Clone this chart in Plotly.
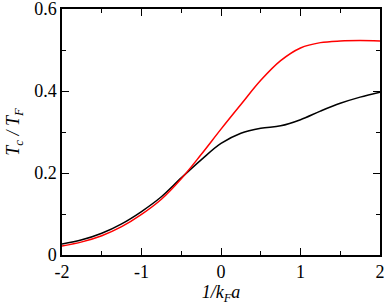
import plotly.graph_objects as go

x_vals = [-2, -1.75, -1.5, -1.25, -1, -0.75, -0.5, -0.25, 0, 0.25, 0.5, 0.75, 1, 1.25, 1.5, 1.75, 2]
red_vals = [0.022, 0.032, 0.047, 0.069, 0.099, 0.136, 0.186, 0.245, 0.307, 0.367, 0.426, 0.474,
            0.505, 0.518, 0.522, 0.523, 0.522]
black_vals = [0.027, 0.037, 0.053, 0.076, 0.106, 0.142, 0.188, 0.232, 0.272, 0.297, 0.309, 0.315,
              0.330, 0.351, 0.370, 0.385, 0.397]

x_ticks = [-2, -1, 0, 1, 2]
x_tick_labels = ["-2", "-1", "0", "1", "2"]
y_ticks = [0, 0.2, 0.4, 0.6]
y_tick_labels = ["0", "0.2", "0.4", "0.6"]

font = "Liberation Serif"

fig = go.Figure()
fig.add_trace(go.Scatter(x=x_vals, y=black_vals, mode="lines",
                         line=dict(color="#000000", width=1.5, shape="spline", smoothing=1.0),
                         showlegend=False, hoverinfo="skip"))
fig.add_trace(go.Scatter(x=x_vals, y=red_vals, mode="lines",
                         line=dict(color="#ff0000", width=1.5, shape="spline", smoothing=1.0),
                         showlegend=False, hoverinfo="skip"))

axis_common = dict(showgrid=False, zeroline=False, showline=True, linecolor="black", linewidth=1.5,
                   mirror="allticks", ticks="inside", ticklen=7, tickwidth=1.2, tickcolor="black",
                   automargin=False, ticklabeloverflow="allow",
                   tickfont=dict(family=font, size=18, color="black"))

fig.update_xaxes(range=[-2, 2], tickvals=x_ticks, ticktext=x_tick_labels,
                 minor=dict(dtick=0.5, ticks="inside", ticklen=4, tickwidth=1, tickcolor="black", showgrid=False),
                 title=dict(text="<i>1/k<sub>F</sub>a</i>", font=dict(family=font, size=18, color="black"), standoff=4),
                 **axis_common)
fig.update_yaxes(range=[0, 0.6], tickvals=y_ticks, ticktext=y_tick_labels,
                 minor=dict(dtick=0.1, ticks="inside", ticklen=4, tickwidth=1, tickcolor="black", showgrid=False),
                 title=dict(text="<i>T<sub>c</sub> / T<sub>F</sub></i>", font=dict(family=font, size=18, color="black"), standoff=10),
                 **axis_common)

fig.update_layout(width=388, height=307, margin=dict(l=62, r=8, t=9, b=52),
                  plot_bgcolor="white", paper_bgcolor="white",
                  font=dict(family=font, size=18, color="black"))

fig.write_html("out.html", config={"displayModeBar": False},
               post_script="document.body.style.margin='0';document.body.style.overflow='hidden';")
